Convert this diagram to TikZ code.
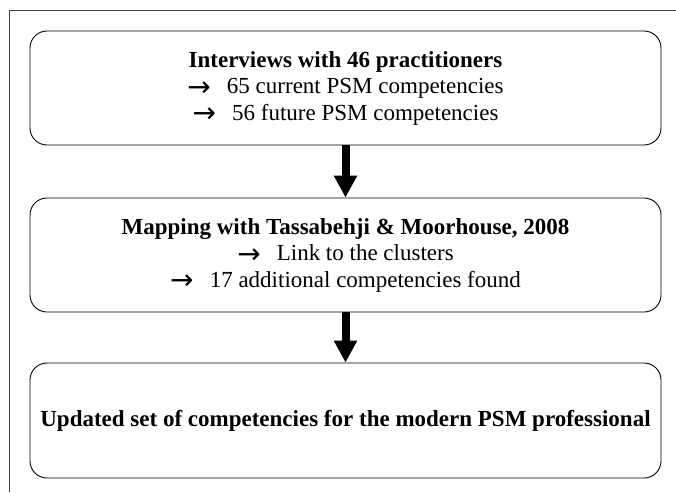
\documentclass[tikz,border=0pt]{standalone}
\usepackage{fontspec}
\setmainfont{Liberation Serif}
\newfontfamily\arrowfont{DejaVu Sans}
\usetikzlibrary{arrows.meta}

% one arrow bullet in front of a result line
\newcommand{\resultline}[1]{\raisebox{-2.5pt}{\arrowfont\fontsize{28}{28}\selectfont →}\hspace{0.7em}#1}

\tikzset{
    stagebox/.style={draw, rounded corners=17pt, line width=0.9pt,
        minimum width=631pt, minimum height=114pt, inner sep=0pt,
        align=center, font=\fontsize{23}{26.5}\selectfont},
    flowarrow/.style={line width=8pt, -{Triangle[width=22pt,length=22pt]}},
    frameline/.style={draw=black!75, line width=0.8pt}
}

\begin{document}
\begin{tikzpicture}[x=1pt, y=-1pt]
    \useasboundingbox (0,0) rectangle (676,492);

    % outer frame, only top and left edge show
    \coordinate (frametl) at (9,10);
    \draw[frameline] (9,492) -- (frametl) -- (676,10);

    % the three stages
    \node[stagebox] (interviews) at (345.5,88)
        {\textbf{Interviews with 46 practitioners}\\
         \resultline{65 current PSM competencies}\\
         \resultline{56 future PSM competencies}};
    \node[stagebox] (mapping) at (345.5,255)
        {\textbf{Mapping with Tassabehji \& Moorhouse, 2008}\\
         \resultline{Link to the clusters}\\
         \resultline{17 additional competencies found}};
    \node[stagebox, minimum height=115pt] (updated) at (345.5,420.5)
        {\textbf{Updated set of competencies for the modern PSM professional}};

    % arrows between the stages
    \draw[flowarrow] (interviews.south) -- (mapping.north);
    \draw[flowarrow] (mapping.south) -- (updated.north);
\end{tikzpicture}
\end{document}
